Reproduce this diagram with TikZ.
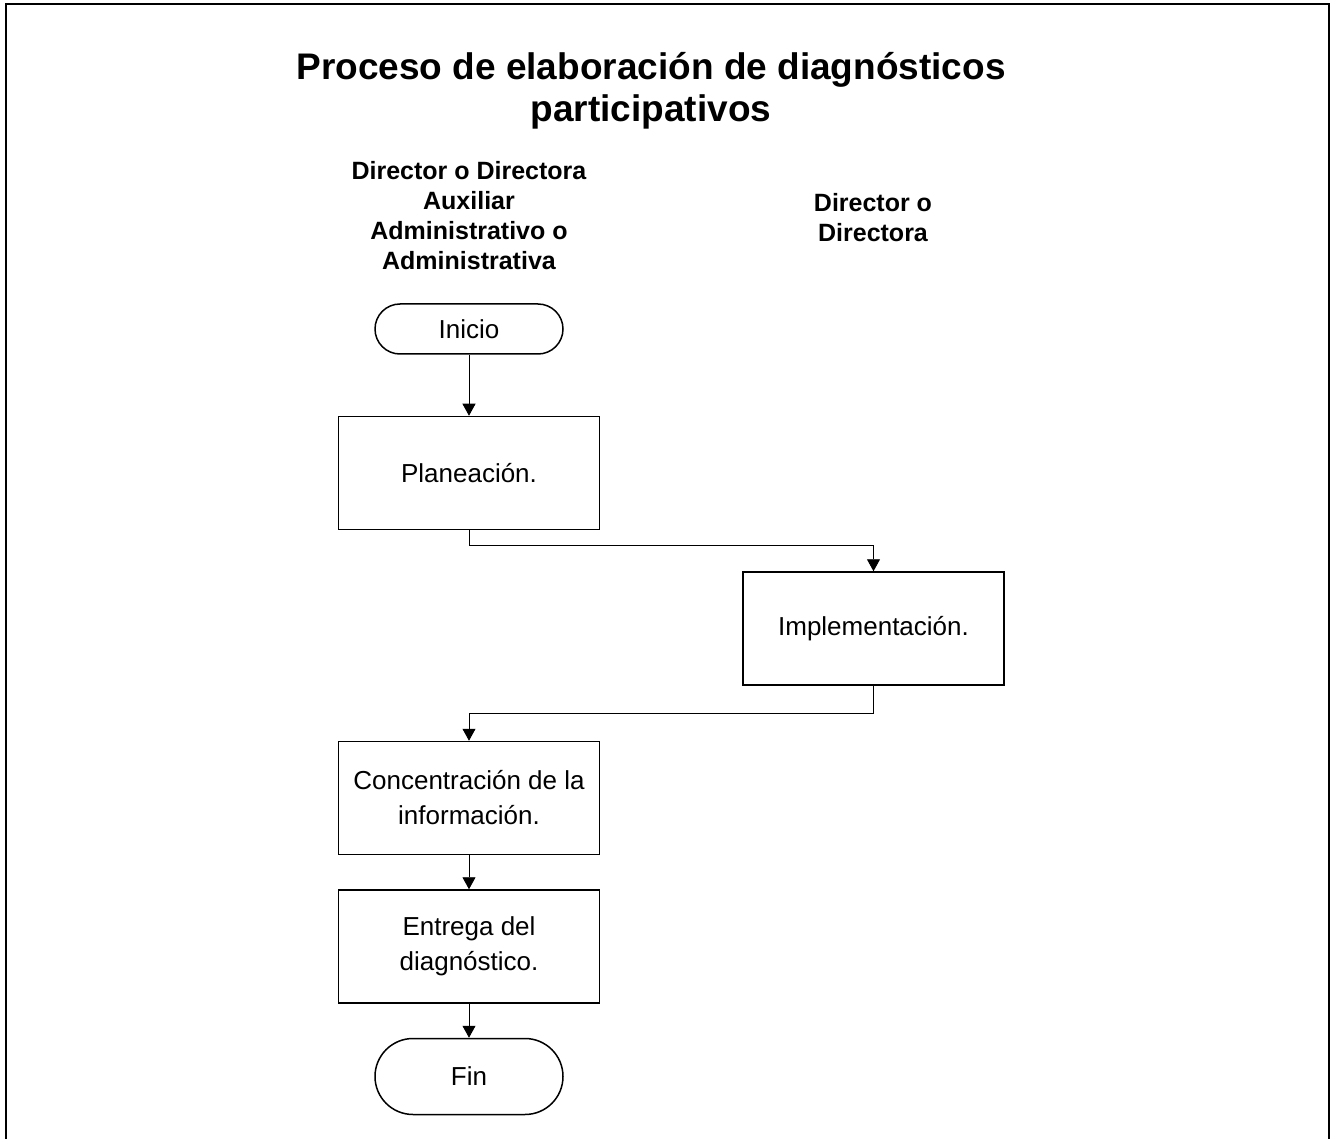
\documentclass[tikz,border=0pt]{standalone}
\usepackage{fontspec}
\setmainfont{Liberation Sans}
\usetikzlibrary{arrows.meta, positioning}

\begin{document}
\begin{tikzpicture}[
    x=1pt, y=1pt,
    terminal/.style={
      rectangle,
      draw=black,
      line width=1.5pt,
      fill=white,
      align=center,
      minimum width=188pt,
      font=\fontsize{26}{35}\selectfont
    },
    proceso/.style={
      rectangle,
      draw=black,
      line width=1.5pt,
      fill=white,
      align=center,
      minimum width=261pt,
      minimum height=113pt,
      font=\fontsize{26}{35}\selectfont
    },
    carril/.style={
      align=center,
      font=\bfseries\fontsize{25}{30}\selectfont
    },
    line/.style={-{Triangle[length=12pt, width=13pt]}, line width=0.9pt}
  ]
    \useasboundingbox (0,0) rectangle (1331,-1139);
    \draw[line width=2.4pt] (6,-1160) -- (6,-4) -- (1329,-4) -- (1329,-1160);

    \node[align=center, font=\bfseries\fontsize{37}{42}\selectfont] (titulo) at (651,-91)
      {Proceso de elaboración de diagnósticos\\participativos};
    \node[carril] (carrilA) at (469,-216)
      {Director o Directora\\Auxiliar\\Administrativo o\\Administrativa};
    \node[carril] (carrilB) at (873,-218) {Director o\\Directora};

    \node[terminal, minimum height=50pt, rounded corners=25pt] (inicio) at (469,-329) {Inicio};
    \node[proceso, below=61pt of inicio] (planeacion) {Planeación.};
    \node[proceso, below right=41pt and 142pt of planeacion] (implementacion) {Implementación.};
    \node[proceso, below left=55pt and 142pt of implementacion] (concentracion)
      {Concentración de la\\información.};
    \node[proceso, below=34pt of concentracion] (entrega) {Entrega del\\diagnóstico.};
    \node[terminal, minimum height=76pt, rounded corners=38pt, below=34pt of entrega] (fin) {Fin};

    \draw[line] (inicio) -- (planeacion);
    \draw[line] (planeacion.south) -- ++(0,-15) -| (implementacion.north);
    \draw[line] (implementacion.south) -- ++(0,-28) -| (concentracion.north);
    \draw[line] (concentracion) -- (entrega);
    \draw[line] (entrega) -- (fin);
  \end{tikzpicture}
\end{document}
